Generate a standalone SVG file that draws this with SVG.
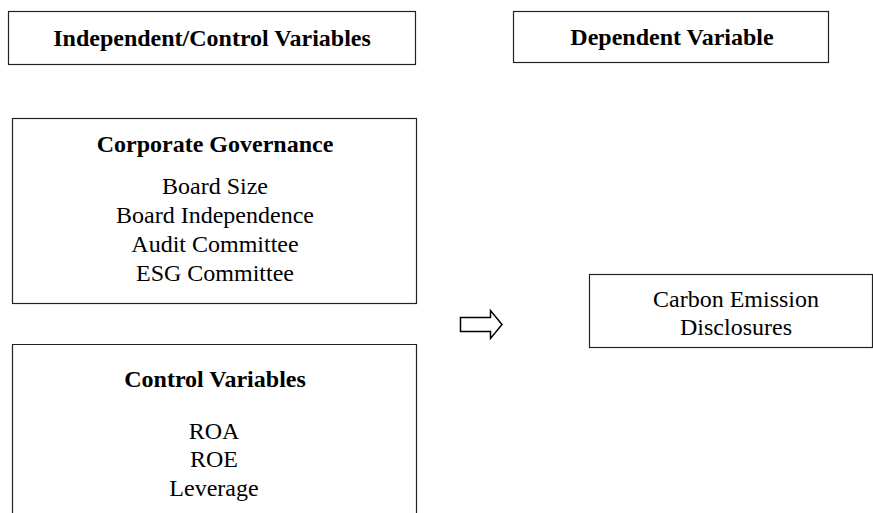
<svg xmlns="http://www.w3.org/2000/svg" width="873" height="513" viewBox="0 0 873 513">
<style>
.box{fill:#fff;stroke:#222;stroke-width:1.2}
.t{font-family:"Liberation Serif","Times New Roman",serif;font-size:24px;fill:#000;text-anchor:middle}
.b{font-weight:bold}
.arrow{fill:#fff;stroke:#000;stroke-width:1.5;stroke-linejoin:miter}
</style>
<rect width="873" height="513" fill="#fff"/>
<g id="header-independent">
<rect class="box" x="8.5" y="11.5" width="407" height="53"/>
<text class="t b" x="212" y="46">Independent/Control Variables</text>
</g>
<g id="header-dependent">
<rect class="box" x="513.5" y="11.5" width="315" height="51"/>
<text class="t b" x="672" y="45">Dependent Variable</text>
</g>
<g id="corporate-governance">
<rect class="box" x="12.5" y="118.5" width="404" height="185"/>
<text class="t b" x="215" y="152">Corporate Governance</text>
<text class="t" x="215" y="194">Board Size</text>
<text class="t" x="215" y="223">Board Independence</text>
<text class="t" x="215" y="252">Audit Committee</text>
<text class="t" x="215" y="281">ESG Committee</text>
</g>
<g id="control-variables">
<path class="box" d="M12.5,520 V344.5 H416.5 V520"/>
<text class="t b" x="215" y="387">Control Variables</text>
<text class="t" x="214" y="439">ROA</text>
<text class="t" x="214" y="467">ROE</text>
<text class="t" x="214" y="496">Leverage</text>
</g>
<g id="carbon-emission-disclosures">
<rect class="box" x="589.5" y="274.5" width="283" height="73"/>
<text class="t" x="736" y="307">Carbon Emission</text>
<text class="t" x="736" y="335">Disclosures</text>
</g>
<g id="connectors">
<path class="arrow" d="M460.5,317.5 H490.5 V310.5 L502,324.5 L490.5,338.5 V331.5 H460.5 Z"/>
</g>
</svg>
